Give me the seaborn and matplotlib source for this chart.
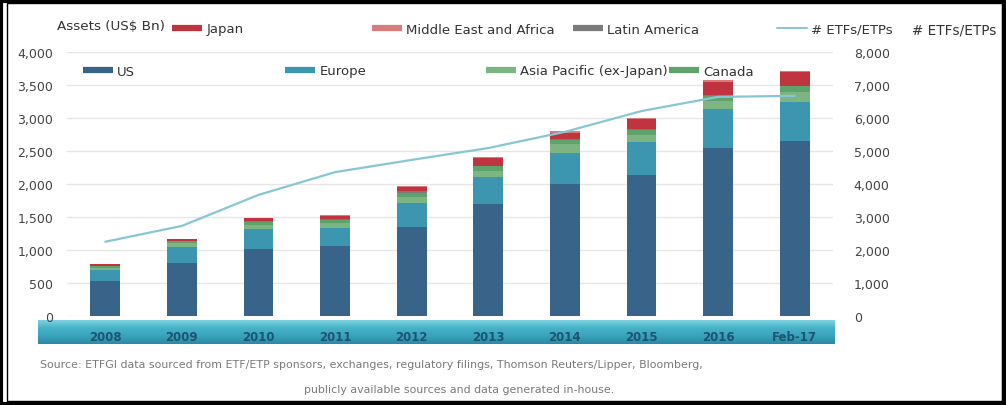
import numpy as np
import pandas as pd
import matplotlib
matplotlib.use("Agg")
import matplotlib.pyplot as plt
import seaborn as sns
from matplotlib.lines import Line2D
from matplotlib.patches import Rectangle
from matplotlib.ticker import FuncFormatter, MultipleLocator

# ---- data ----
categories = ["2008", "2009", "2010", "2011", "2012", "2013", "2014", "2015", "2016", "Feb-17"]
us = [530, 800, 1010, 1060, 1350, 1700, 2000, 2130, 2550, 2650]
europe = [170, 250, 310, 280, 360, 400, 470, 500, 580, 600]
asia_pacific = [30, 50, 60, 70, 100, 100, 130, 120, 130, 150]
canada = [25, 30, 50, 50, 60, 70, 70, 70, 80, 80]
latin_america = [5, 5, 10, 10, 20, 10, 10, 10, 10, 10]
japan = [25, 25, 40, 50, 60, 110, 100, 150, 200, 200]
middle_east_africa = [5, 5, 10, 10, 20, 20, 20, 20, 20, 20]
etfs = [2250, 2730, 3670, 4360, 4730, 5090, 5580, 6210, 6640, 6670]

series_names = ["US", "Europe", "Asia Pacific (ex-Japan)", "Canada",
                "Latin America", "Japan", "Middle East and Africa"]
series_values = [us, europe, asia_pacific, canada, latin_america, japan, middle_east_africa]
colors = {
    "US": "#386489",
    "Europe": "#3C96B0",
    "Asia Pacific (ex-Japan)": "#7DB582",
    "Canada": "#5FA26C",
    "Latin America": "#7A7A7A",
    "Japan": "#C0343F",
    "Middle East and Africa": "#D77B7B",
}
line_color = "#88C6D6"

W, H = 1006, 406
sns.set_theme(style="white")
plt.rcParams["font.family"] = ["DejaVu Sans"]

fig = plt.figure(figsize=(W / 100, H / 100), dpi=100)
fig.patch.set_facecolor("white")

ax_l, ax_r, ax_t, ax_b = 67, 833, 53, 317
ax = fig.add_axes([ax_l / W, 1 - ax_b / H, (ax_r - ax_l) / W, (ax_b - ax_t) / H])
ax.set_zorder(2)
ax.patch.set_alpha(0)

# stacked bars: draw cumulative totals, largest first
cum = np.zeros(len(categories))
cums = []
for name, vals in zip(series_names, series_values):
    cum = cum + np.array(vals, dtype=float)
    cums.append((name, cum.copy()))
for name, c in reversed(cums):
    sns.barplot(x=categories, y=c, color=colors[name], width=0.39,
                linewidth=0, saturation=1, ax=ax, order=categories)

ax.set_xlim(-0.5, 9.5)
ax.set_ylim(0, 4000)
ax.yaxis.set_major_locator(MultipleLocator(500))
ax.yaxis.set_major_formatter(FuncFormatter(lambda v, p: f"{int(v):,}"))
ax.grid(axis="y", color="#E6E6E6", linewidth=1)
ax.set_axisbelow(True)
for s in ax.spines.values():
    s.set_visible(False)
ax.tick_params(axis="y", length=0, pad=10, labelsize=9, labelcolor="#444444")
ax.tick_params(axis="x", length=0, pad=10, labelsize=8.5, labelcolor="#1D5470")
for t in ax.get_xticklabels():
    t.set_fontweight("bold")
ax.set_xlabel("")
ax.set_ylabel("")

ax2 = ax.twinx()
sns.lineplot(x=categories, y=etfs, color=line_color, linewidth=1.6, sort=False, ax=ax2)
ax2.set_ylim(0, 8000)
ax2.yaxis.set_major_locator(MultipleLocator(1000))
ax2.yaxis.set_major_formatter(FuncFormatter(lambda v, p: f"{int(v):,}"))
ax2.tick_params(axis="y", length=0, pad=15, labelsize=9, labelcolor="#444444")
ax2.grid(False)
for s in ax2.spines.values():
    s.set_visible(False)
ax2.set_ylabel("")

# x-axis band with gradient
band = fig.add_axes([38 / W, 1 - 345 / H, (835 - 38) / W, (345 - 321) / H])
band.set_zorder(0)
grad = np.linspace(0, 1, 50).reshape(-1, 1)
cmap = matplotlib.colors.LinearSegmentedColormap.from_list(
    "b", ["#7ED2E0", "#45B2C8", "#3AA3BC", "#2A8AA3"])
band.imshow(grad, aspect="auto", cmap=cmap, extent=[0, 1, 0, 1], origin="upper")
band.set_axis_off()

# axis titles
fig.text(57 / W, 1 - 27 / H, "Assets (US$ Bn)", fontsize=9.7, color="#333333", va="center", ha="left")
fig.text(912 / W, 1 - 30 / H, "# ETFs/ETPs", fontsize=9.8, color="#333333", va="center", ha="left")

# legends (individual entries positioned like the reference)
entries = [
    ("Japan", "bar", 172, 30),
    ("Middle East and Africa", "bar", 372, 30),
    ("Latin America", "bar", 573, 30),
    ("# ETFs/ETPs", "line", 777, 30),
    ("US", "bar", 83, 72),
    ("Europe", "bar", 285, 72),
    ("Asia Pacific (ex-Japan)", "bar", 486, 72),
    ("Canada", "bar", 669, 72),
]
for label, kind, x, y in entries:
    if kind == "bar":
        h = Line2D([], [], color=colors[label], linewidth=4.5, solid_capstyle="butt")
    else:
        h = Line2D([], [], color=line_color, linewidth=1.4)
    fig.legend([h], [label], loc="center left", bbox_to_anchor=(x / W, 1 - y / H),
               frameon=False, borderpad=0, borderaxespad=0, handlelength=2.3,
               handletextpad=0.3, fontsize=9.5, labelcolor="#333333")

# source note
src_font = ["Liberation Sans Narrow", "DejaVu Sans"]
fig.text(40 / W, 1 - 365 / H,
         "Source: ETFGI data sourced from ETF/ETP sponsors, exchanges, regulatory filings, Thomson Reuters/Lipper, Bloomberg,",
         fontsize=7.9, color="#7A7A7A", va="center", ha="left", family=src_font)
fig.text(459 / W, 1 - 390 / H, "publicly available sources and data generated in-house.",
         fontsize=7.9, color="#7A7A7A", va="center", ha="center", family=src_font)

# outer frame
fr = fig.add_axes([0, 0, 1, 1], zorder=-1)
fr.set_xlim(0, W)
fr.set_ylim(H, 0)
fr.set_axis_off()
fr.add_patch(Rectangle((1.5, 1.5), W - 3, H - 3, fill=False, edgecolor="black", linewidth=3))
fr.add_patch(Rectangle((7, 4), W - 11, H - 8, fill=False, edgecolor="black", linewidth=1))

fig.savefig("out.png", dpi=100)
